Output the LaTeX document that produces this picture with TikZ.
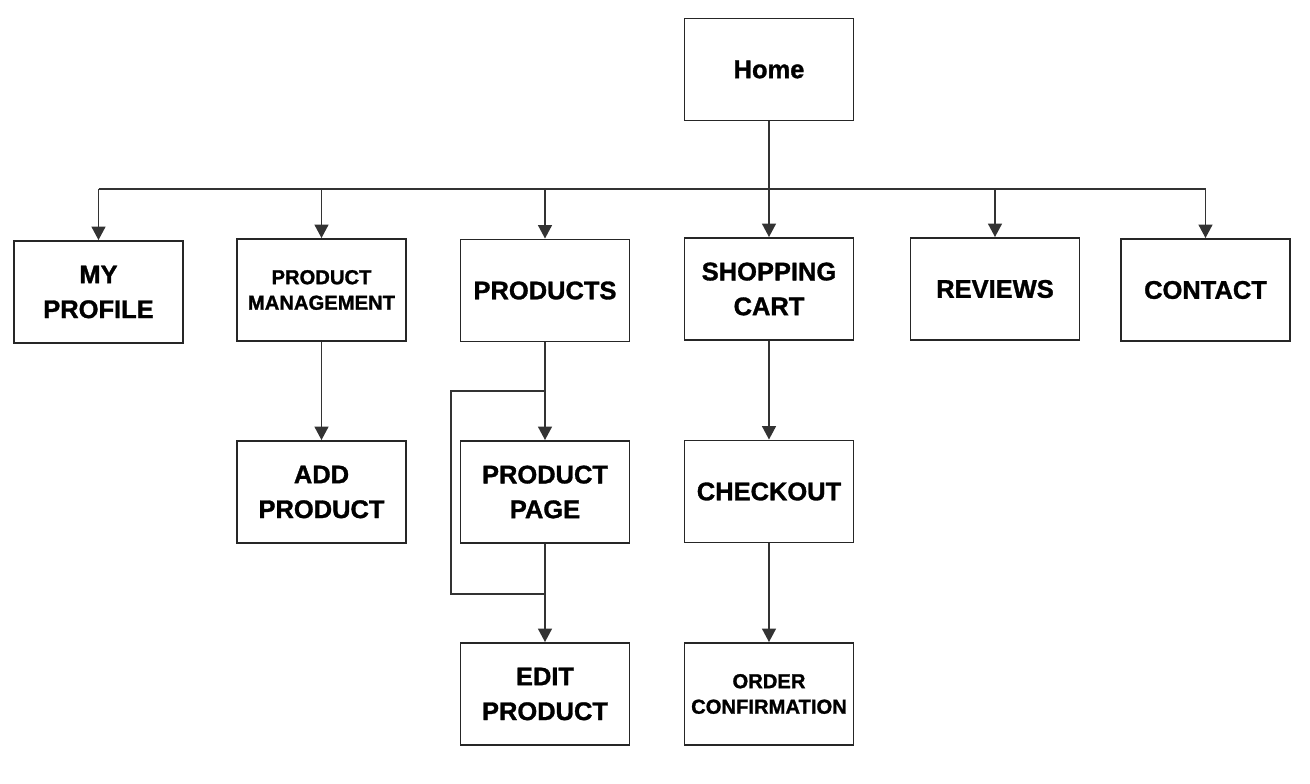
\documentclass[tikz,border=0pt]{standalone}
\usepackage{fontspec}
\setmainfont{Liberation Sans}[BoldFeatures={FakeBold=1.2}]
\usetikzlibrary{arrows.meta}

\begin{document}
\begin{tikzpicture}[
  pagebox/.style={draw=black!85,line width=1.1pt,fill=white,minimum width=3.38cm,minimum height=2.04cm,align=center,font=\bfseries\fontsize{14.5}{19.8}\selectfont},
  smallbox/.style={pagebox,font=\bfseries\fontsize{11.5}{14.5}\selectfont},
  link/.style={draw=black!80,line width=0.9pt},
  arrowlink/.style={link,-{Triangle[length=0.27cm,width=0.28cm]}}
]
\useasboundingbox (0,0) rectangle (26.2,-15.68);

\node[pagebox] (home) at (15.38,-1.39) {Home};

\node[pagebox] (myprofile) at (1.97,-5.84) {MY\\PROFILE};
\node[smallbox] (prodmgmt) at (6.43,-5.80) {PRODUCT\\MANAGEMENT};
\node[pagebox] (products) at (10.90,-5.81) {PRODUCTS};
\node[pagebox] (cart) at (15.38,-5.78) {SHOPPING\\CART};
\node[pagebox] (reviews) at (19.90,-5.78) {REVIEWS};
\node[pagebox] (contact) at (24.11,-5.80) {CONTACT};

\node[pagebox] (addproduct) at (6.43,-9.84) {ADD\\PRODUCT};
\node[pagebox] (productpage) at (10.90,-9.84) {PRODUCT\\PAGE};
\node[pagebox] (checkout) at (15.38,-9.83) {CHECKOUT};

\node[pagebox] (editproduct) at (10.90,-13.88) {EDIT\\PRODUCT};
\node[smallbox] (orderconf) at (15.38,-13.88) {ORDER\\CONFIRMATION};

\coordinate (bus) at (15.38,-3.78);
\draw[link] (home) -- (bus);
\draw[link] (myprofile.north |- bus) -- (contact.north |- bus);
\foreach \n in {myprofile,prodmgmt,products,cart,reviews,contact}
  \draw[arrowlink] (\n.north |- bus) -- (\n.north);

\draw[arrowlink] (prodmgmt) -- (addproduct);
\draw[arrowlink] (cart) -- (checkout);
\draw[arrowlink] (checkout) -- (orderconf);

\coordinate (split) at (10.90,-7.82);
\coordinate (join) at (10.90,-11.88);
\coordinate (loopleft) at (9.02,-7.82);
\draw[link] (products) -- (split);
\draw[arrowlink] (split) -- (productpage);
\draw[link] (split) -- (loopleft) |- (join);
\draw[link] (productpage) -- (join);
\draw[arrowlink] (join) -- (editproduct);

\end{tikzpicture}
\end{document}
